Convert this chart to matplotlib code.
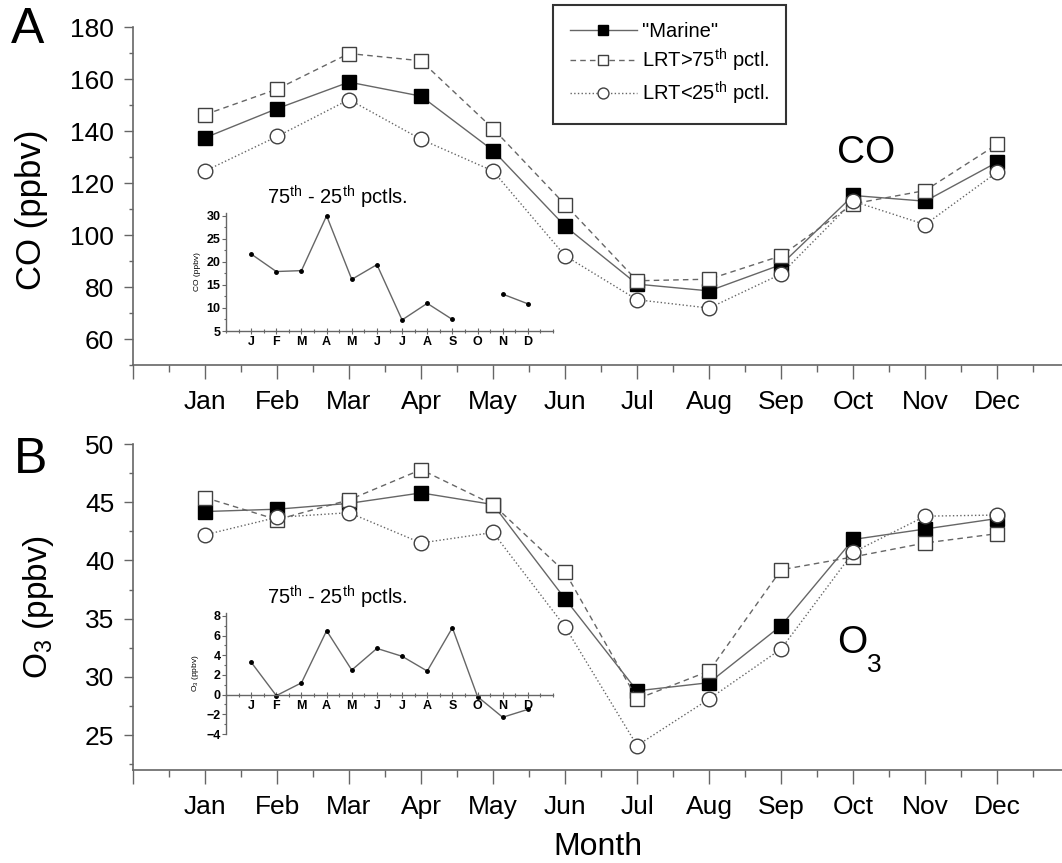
import numpy as np
import matplotlib
matplotlib.use('Agg')
import matplotlib.pyplot as plt
from matplotlib.ticker import MultipleLocator, FixedLocator

plt.rcParams['font.family'] = ['Liberation Sans', 'DejaVu Sans']
plt.rcParams['mathtext.fontset'] = 'custom'
plt.rcParams['mathtext.rm'] = 'Liberation Sans'
plt.rcParams['mathtext.it'] = 'Liberation Sans'

# data
months = np.arange(1, 13)
month_names = ['Jan', 'Feb', 'Mar', 'Apr', 'May', 'Jun', 'Jul', 'Aug', 'Sep', 'Oct', 'Nov', 'Dec']
month_letters = ['J', 'F', 'M', 'A', 'M', 'J', 'J', 'A', 'S', 'O', 'N', 'D']

co_marine = [137.4, 148.6, 158.8, 153.4, 132.5, 103.4, 81.1, 78.5, 88.6, 115.2, 113.0, 128.0]
co_lrt75 = [146.3, 156.1, 169.8, 167.0, 140.9, 111.7, 82.4, 83.0, 92.0, 112.0, 117.1, 134.9]
co_lrt25 = [124.6, 137.9, 152.1, 136.8, 124.6, 92.0, 75.1, 71.9, 85.0, 113.0, 104.0, 124.2]
co_iqr = [21.7, 17.9, 18.1, 30.0, 16.2, 19.4, 7.4, 11.0, 7.5, np.nan, 13.0, 10.9]

o3_marine = [44.2, 44.4, 44.9, 45.8, 44.8, 36.7, 28.8, 29.5, 34.4, 41.8, 42.7, 43.6]
o3_lrt75 = [45.4, 43.5, 45.2, 47.8, 44.8, 39.0, 28.1, 30.5, 39.2, 40.3, 41.5, 42.3]
o3_lrt25 = [42.2, 43.7, 44.1, 41.5, 42.4, 34.3, 24.1, 28.1, 32.4, 40.7, 43.8, 43.9]
o3_iqr = [3.3, -0.1, 1.2, 6.5, 2.5, 4.7, 3.9, 2.4, 6.8, -0.2, -2.3, -1.5]

W, H = 1062, 863
fig = plt.figure(figsize=(W/100, H/100), dpi=100)
fig.patch.set_facecolor('white')

lc = '0.4'
ec = '0.25'


def px(x0, y0, x1, y1):
    # pixel box (left, top, right, bottom) -> figure fraction rect
    return [x0/W, 1-y1/H, (x1-x0)/W, (y1-y0)/H]


def main_panel(ax, marine, lrt75, lrt25, ylim, major, minor):
    ax.plot(months, marine, '-', color=lc, lw=1.0, marker='s', ms=9.5,
            mfc='black', mec='black', label='"Marine"', zorder=3)
    ax.plot(months, lrt75, '--', color=lc, lw=1.0, dashes=(4, 3), marker='s', ms=9.5,
            mfc='white', mec=ec, mew=1.0, label=r'LRT>75$^{\mathrm{th}}$ pctl.', zorder=4)
    ax.plot(months, lrt25, ':', color=lc, lw=1.0, marker='o', ms=10.5,
            mfc='white', mec=ec, mew=1.0, label=r'LRT<25$^{\mathrm{th}}$ pctl.', zorder=5)
    ax.set_xlim(0, 12.9)
    ax.set_ylim(*ylim)
    ax.xaxis.set_major_locator(FixedLocator(range(0, 13)))
    ax.set_xticklabels([''] + month_names)
    ax.xaxis.set_minor_locator(MultipleLocator(0.5))
    ax.yaxis.set_major_locator(FixedLocator(major))
    ax.yaxis.set_minor_locator(FixedLocator(minor))
    for s in ['top', 'right']:
        ax.spines[s].set_visible(False)
    for s in ['left', 'bottom']:
        ax.spines[s].set_color('0.4')
        ax.spines[s].set_linewidth(1.2)
    ax.tick_params(axis='x', which='major', length=10, width=1, color='0.4', pad=8, labelsize=19)
    ax.tick_params(axis='x', which='minor', length=5, width=1, color='0.4')
    ax.tick_params(axis='y', which='major', length=6.5, width=1, color='0.4', pad=7, labelsize=19)
    ax.tick_params(axis='y', which='minor', length=3, width=1, color='0.4')


def inset_panel(ax, vals, ylim, major, minor, ylabel, zero_axis):
    ax.plot(months, vals, '-', color='0.4', lw=1.0, marker='o', ms=2.5,
            mfc='black', mec='black')
    ax.set_xlim(0, 13)
    ax.set_ylim(*ylim)
    ax.set_xticks(months)
    ax.set_xticklabels(month_letters)
    ax.xaxis.set_minor_locator(MultipleLocator(0.5))
    ax.yaxis.set_major_locator(MultipleLocator(major))
    ax.yaxis.set_minor_locator(MultipleLocator(minor))
    for s in ['top', 'right']:
        ax.spines[s].set_visible(False)
    for s in ['left', 'bottom']:
        ax.spines[s].set_color('0.4')
        ax.spines[s].set_linewidth(1.0)
    if zero_axis:
        ax.spines['bottom'].set_position(('data', 0))
    ax.patch.set_alpha(0)
    ax.tick_params(axis='x', which='major', direction='inout', length=4, width=0.8,
                   color='0.4', pad=1.5, labelsize=9)
    ax.tick_params(axis='x', which='minor', direction='inout', length=2.5, width=0.8, color='0.4')
    ax.tick_params(axis='y', which='major', length=3, width=0.8, color='0.4', pad=1, labelsize=9)
    ax.tick_params(axis='y', which='minor', length=1.5, width=0.8, color='0.4')
    for t in ax.get_xticklabels() + ax.get_yticklabels():
        t.set_fontweight('bold')
    ax.set_ylabel(ylabel, fontsize=6, labelpad=4)
    ax.text(0.34, 1.13, r'75$^{\mathrm{th}}$ - 25$^{\mathrm{th}}$ pctls.', transform=ax.transAxes,
            ha='center', va='center', fontsize=14.5)


# panel A: CO
ax1 = fig.add_axes(px(133, 27, W, 365))
main_panel(ax1, co_marine, co_lrt75, co_lrt25, (50, 180),
           range(60, 181, 20), range(50, 180, 20))
ax1.set_ylabel('CO (ppbv)', fontsize=25)
ax1.yaxis.set_label_coords(-0.092, 0.46)
fig.text(866/W, 1-153/H, 'CO', fontsize=28, ha='center', va='center')
leg = ax1.legend(loc='upper left', bbox_to_anchor=(553/W, 1-5/H), bbox_transform=fig.transFigure,
                 fontsize=14.5, frameon=True, fancybox=False, edgecolor='black',
                 handlelength=3.3, handletextpad=0.25, labelspacing=0.28,
                 borderpad=0.85, borderaxespad=0, markerscale=0.75, numpoints=1)
leg.get_frame().set_linewidth(1.5)

# panel B: O3
ax2 = fig.add_axes(px(133, 444, W, 770))
main_panel(ax2, o3_marine, o3_lrt75, o3_lrt25, (22, 50),
           range(25, 51, 5), np.arange(22.5, 50, 5))
ax2.set_ylabel('O$_3$ (ppbv)', fontsize=24)
ax2.yaxis.set_label_coords(-0.083, 0.5)
ax2.set_xlabel('Month', fontsize=23, labelpad=9)
fig.text(852/W, 1-643/H, 'O', fontsize=28, ha='center', va='center')
fig.text(874/W, 1-665/H, '3', fontsize=19, ha='center', va='center')

# panel letters
fig.text(28/W, 1-30/H, 'A', fontsize=36, ha='center', va='center')
fig.text(31/W, 1-460/H, 'B', fontsize=36, ha='center', va='center')

# insets
ins1 = fig.add_axes(px(226, 213, 553, 331))
inset_panel(ins1, co_iqr, (5, 30.6), 5, 2.5, 'CO (ppbv)', False)

ins2 = fig.add_axes(px(226, 613, 553, 734))
inset_panel(ins2, o3_iqr, (-4, 8.3), 2, 1, 'O$_3$ (ppbv)', True)

plt.savefig('out.png', dpi=100)
